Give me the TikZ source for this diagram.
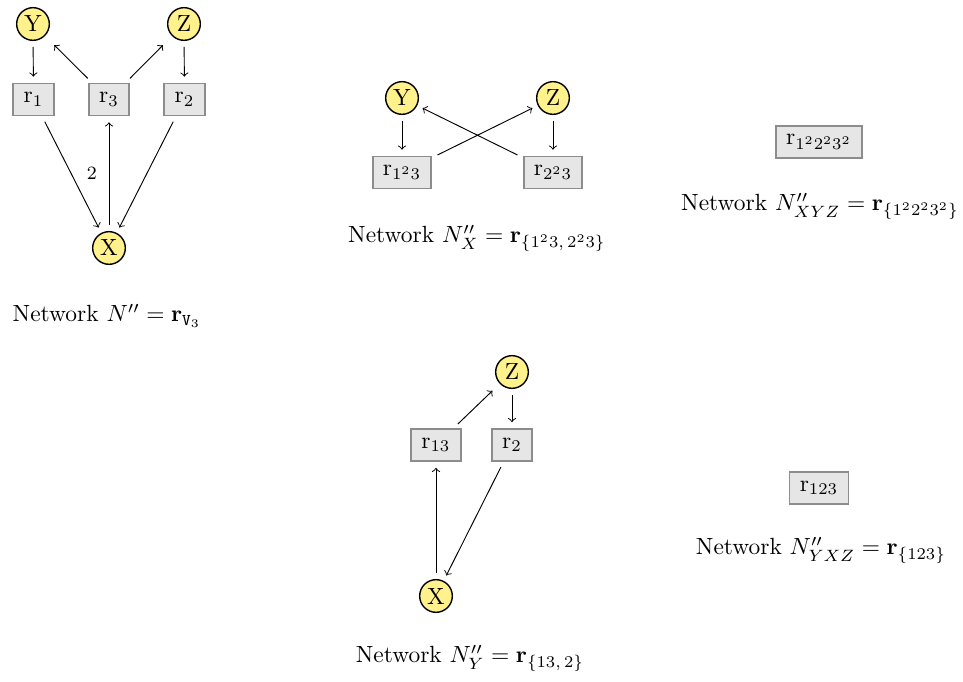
\documentclass[tikz,border=0pt]{standalone}
\usepackage{amssymb,amsmath}
\usepackage{xcolor}
\usepackage{tikz}
\usetikzlibrary{arrows}
\definecolor{varcolor}{HTML}{FFF28C}
\definecolor{reaccolor}{HTML}{E6E6E6}
\definecolor{reacline}{HTML}{8C8C8C}

\begin{document}
\begin{tikzpicture}[x=0.15mm,y=-0.15mm,
   var/.style={circle,draw=black,fill=varcolor,line width=0.6pt,minimum size=4.9mm,inner sep=0pt},
   reac/.style={rectangle,draw=reacline,fill=reaccolor,line width=0.8pt,minimum height=4.8mm,inner xsep=4.4pt,inner ysep=0pt},
   edge/.style={->,line width=0.4pt,shorten >=2.5pt,shorten <=2.5pt},
   caption/.style={anchor=base}]
\useasboundingbox (0,0) rectangle (963,682);

% network N''
\node[var] (y1) at (33,24) {Y};
\node[var] (z1) at (184,24) {Z};
\node[reac] (r1) at (33.5,99.5) {$\mathrm{r}_1$};
\node[reac] (r3) at (109,99.5) {$\mathrm{r}_3$};
\node[reac] (r2) at (184.5,99.5) {$\mathrm{r}_2$};
\node[var] (x1) at (109,248) {X};
\draw[edge] (y1) -- (r1);
\draw[edge] (z1) -- (r2);
\draw[edge,shorten >=5.5pt] (r3) -- (y1);
\draw[edge,shorten >=5.5pt] (r3) -- (z1);
\draw[edge] (r1) -- (x1);
\draw[edge] (r2) -- (x1);
\draw[edge] (x1) -- node[left,inner sep=5pt] {\footnotesize 2} (r3);
\node[caption] (c1) at (107,322) {Network $N'' = \mathbf{r}_{\mathtt{V}_3}$};

% network N''_X
\node[var] (y2) at (402,98) {Y};
\node[var] (z2) at (553,98) {Z};
\node[reac] (r123) at (402,172.5) {$\mathrm{r}_{1^2 3}$};
\node[reac] (r223) at (553,172.5) {$\mathrm{r}_{2^2 3}$};
\draw[edge] (y2) -- (r123);
\draw[edge] (z2) -- (r223);
\draw[edge] (r123) -- (z2);
\draw[edge] (r223) -- (y2);
\node[caption] (c2) at (477,243) {Network $N''_X = \mathbf{r}_{\{1^2 3,\, 2^2 3\}}$};

% network N''_XYZ
\node[reac] (rall) at (819,142) {$\mathrm{r}_{1^2 2^2 3^2}$};
\node[caption] (c3) at (820,211) {Network $N''_{XYZ} = \mathbf{r}_{\{1^2 2^2 3^2\}}$};

% network N''_Y
\node[var] (z4) at (512,372) {Z};
\node[reac] (r13) at (436,445) {$\mathrm{r}_{13}$};
\node[reac] (r24) at (512,445) {$\mathrm{r}_2$};
\node[var] (x4) at (436,596) {X};
\draw[edge,shorten >=4.3pt] (r13) -- (z4);
\draw[edge] (z4) -- (r24);
\draw[edge] (r24) -- (x4);
\draw[edge] (x4) -- (r13);
\node[caption] (c4) at (470,663) {Network $N''_Y = \mathbf{r}_{\{13,\, 2\}}$};

% network N''_YXZ
\node[reac] (r5) at (819,488) {$\mathrm{r}_{123}$};
\node[caption] (c5) at (821,555) {Network $N''_{YXZ} = \mathbf{r}_{\{123\}}$};
\end{tikzpicture}
\end{document}
